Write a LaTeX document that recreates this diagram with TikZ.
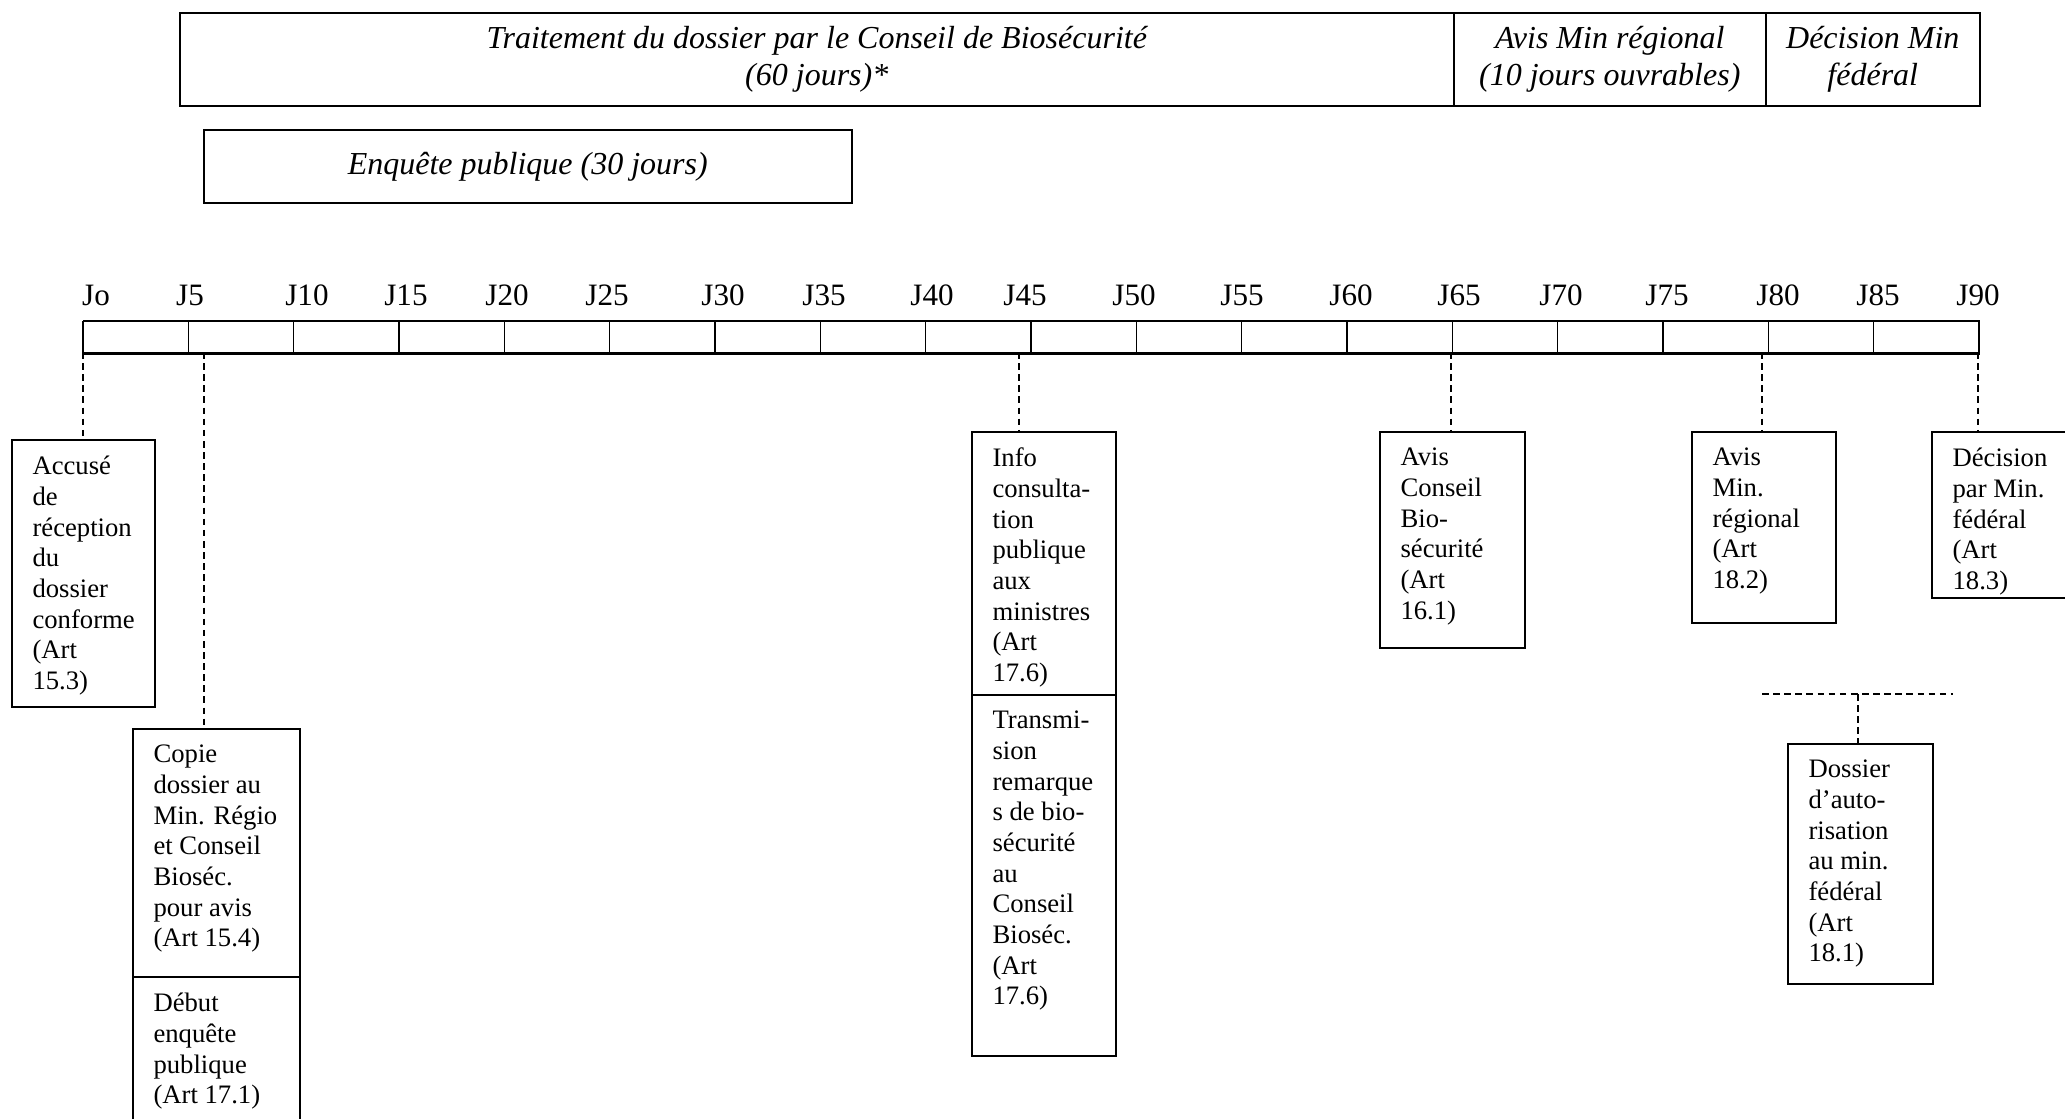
\documentclass[tikz,border=0pt]{standalone}
\usepackage{fontspec}
\setmainfont{Liberation Serif}

\newcommand{\pxu}{0.45pt}
\tikzstyle{phase box}=[draw,line width=0.7pt,anchor=north west,inner sep=0pt,
    align=center,font=\itshape\fontsize{14.4}{17}\selectfont]
\tikzstyle{event border}=[draw,line width=0.7pt,anchor=north west,inner sep=0pt]
\tikzstyle{event text}=[anchor=north west,inner sep=0pt,align=left,
    font=\fontsize{12}{13.8}\selectfont]
\tikzstyle{day label}=[anchor=base,inner sep=0pt,font=\fontsize{14}{17}\selectfont]
\tikzstyle{tick}=[line width=0.5pt]
\tikzstyle{bar edge}=[line width=1.3pt]
\tikzstyle{link}=[line width=0.6pt,dash pattern=on 3pt off 2pt]
\newcommand{\phase}[5]{
    \node[phase box,minimum width=#2*\pxu,minimum height=#3*\pxu] at (#1) (#4) {#5};
}
\newcommand{\event}[5]{
    \node[event border,minimum width=#2*\pxu,minimum height=#3*\pxu] at (#1) (#4) {};
    \node[event text] at ([xshift=9.5pt,yshift=-7.5pt]#4.north west) (#4t) {#5};
}
\newcommand{\daymark}[4]{
    \coordinate (#2) at (#1,352);
    \draw[tick] (#2) -- (#2 |- bar.north);
    \node[day label] at (#3,305) (#2l) {#4};
}

\begin{document}
\begin{tikzpicture}[x=0.45pt,y=-0.45pt]
    \useasboundingbox (0,0) rectangle (2065,1118);

    % periodes
    \phase{179,12}{1274}{93}{conseil}{Traitement du dossier par le Conseil de Biosécurité\\(60 jours)*}
    \phase{1453,12}{312}{93}{avisreg}{Avis Min régional\\(10 jours ouvrables)}
    \phase{1765,12}{214}{93}{decfed}{Décision Min\\fédéral}
    \phase{203,129}{648}{73}{enquete}{Enquête publique (30 jours)}

    % ligne du temps
    \node[draw,tick,anchor=north west,inner sep=0pt,minimum width=1896*\pxu,
        minimum height=31*\pxu] at (83,321) (bar) {};
    \draw[bar edge] (bar.north west) -- (bar.north east);
    \draw[bar edge] (bar.south west) -- (bar.south east);
    \daymark{83}{j0}{96}{Jo}
    \daymark{188.3}{j5}{190}{J5}
    \daymark{293.7}{j10}{307}{J10}
    \daymark{399}{j15}{406}{J15}
    \daymark{504.3}{j20}{507}{J20}
    \daymark{609.7}{j25}{607}{J25}
    \daymark{715}{j30}{723}{J30}
    \daymark{820.3}{j35}{824}{J35}
    \daymark{925.7}{j40}{932}{J40}
    \daymark{1031}{j45}{1025}{J45}
    \daymark{1136.3}{j50}{1134}{J50}
    \daymark{1241.7}{j55}{1242}{J55}
    \daymark{1347}{j60}{1351}{J60}
    \daymark{1452.3}{j65}{1459}{J65}
    \daymark{1557.7}{j70}{1561}{J70}
    \daymark{1663}{j75}{1667}{J75}
    \daymark{1768.3}{j80}{1778}{J80}
    \daymark{1873.7}{j85}{1878}{J85}
    \daymark{1979}{j90}{1978}{J90}

    % etapes
    \event{11,439}{143}{267}{accuse}{Accusé\\de\\réception\\du\\dossier\\conforme\\(Art\\15.3)}
    \event{132,728}{167}{248}{copie}{Copie\\dossier au\\Min. Régio\\et Conseil\\Bioséc.\\pour avis\\(Art 15.4)}
    \event{132,976}{167}{160}{debut}{Début\\enquête\\publique\\(Art 17.1)}
    \event{971,431}{144}{263}{info}{Info\\consulta-\\tion\\publique\\aux\\ministres\\(Art\\17.6)}
    \event{971,694}{144}{361}{transmi}{Transmi-\\sion\\remarque\\s de bio-\\sécurité\\au\\Conseil\\Bioséc.\\(Art\\17.6)}
    \event{1379,431}{145}{216}{avisbio}{Avis\\Conseil\\Bio-\\sécurité\\(Art\\16.1)}
    \event{1691,431}{144}{191}{avismin}{Avis\\Min.\\régional\\(Art\\18.2)}
    \event{1931,431}{160}{166}{decision}{Décision\\par Min.\\fédéral\\(Art\\18.3)}
    \event{1787,743}{145}{240}{dossier}{Dossier\\d’auto-\\risation\\au min.\\fédéral\\(Art\\18.1)}

    \coordinate (c0) at (83,352);
    \coordinate (c5) at (204,352);
    \coordinate (c45) at (1019,352);
    \coordinate (c65) at (1451,352);
    \coordinate (c80) at (1762,352);
    \coordinate (c90) at (1978,352);
    \coordinate (h1) at (1762,694);
    \coordinate (h2) at (1953,694);
    \coordinate (h3) at (1858,694);
    \draw[link] (c0) -- (c0 |- accuse.north);
    \draw[link] (c5) -- (c5 |- copie.north);
    \draw[link] (c45) -- (c45 |- info.north);
    \draw[link] (c65) -- (c65 |- avisbio.north);
    \draw[link] (c80) -- (c80 |- avismin.north);
    \draw[link] (c90) -- (c90 |- decision.north);
    \draw[link] (h1) -- (h2);
    \draw[link] (h3) -- (h3 |- dossier.north);
\end{tikzpicture}
\end{document}
